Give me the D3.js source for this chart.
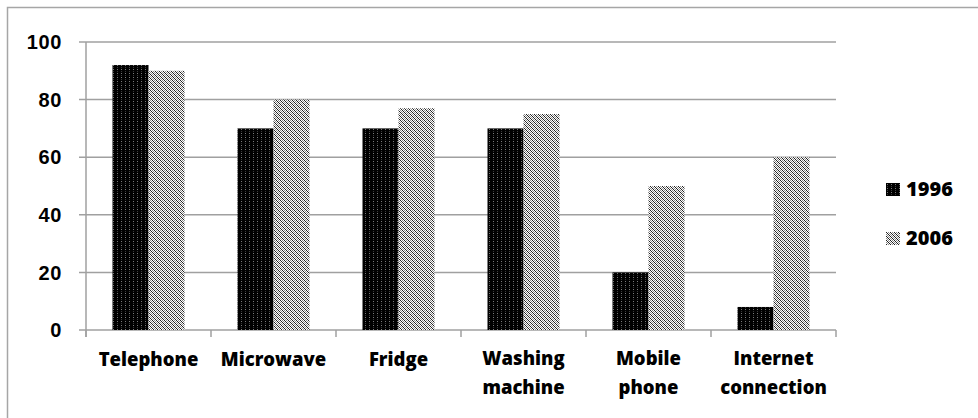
<!DOCTYPE html>
<html><head><meta charset="utf-8">
<script src="https://cdn.jsdelivr.net/npm/d3@7"></script>
<style>body{margin:0;background:#fff}svg{display:block}</style>
</head><body><svg id="c" width="978" height="418"></svg>
<script>
const categories = [["Telephone"],["Microwave"],["Fridge"],["Washing","machine"],["Mobile","phone"],["Internet","connection"]];
const series = ["1996","2006"];
const values1996 = [92,70,70,70,20,8];
const values2006 = [90,80,77,75,50,60];
const yTicks = [0,20,40,60,80,100];

(function(){
const svg = d3.select("#c");
const defs = svg.append("defs");
const p1 = defs.append("pattern").attr("id","p1996").attr("patternUnits","userSpaceOnUse").attr("width",4).attr("height",4);
p1.append("rect").attr("width",4).attr("height",4).attr("fill","#000");
p1.append("rect").attr("x",1).attr("y",1).attr("width",1).attr("height",1).attr("fill","#7a7a7a");
p1.append("rect").attr("x",1).attr("y",3).attr("width",1).attr("height",1).attr("fill","#3a3a3a");
const p2 = defs.append("pattern").attr("id","p2006").attr("patternUnits","userSpaceOnUse").attr("width",4).attr("height",4);
p2.append("rect").attr("width",4).attr("height",4).attr("fill","#fff");
[[0,0],[1,1],[2,2],[3,3],[2,0],[3,1],[0,2],[1,3]].forEach(([px,py],i)=>{
  p2.append("rect").attr("x",px).attr("y",py).attr("width",1).attr("height",1).attr("fill", i<4 ? "#222" : "#8a8a8a");
});

svg.append("rect").attr("x",7.5).attr("y",7.5).attr("width",1000).attr("height",1000)
  .attr("fill","none").attr("stroke","#a6a6a6").attr("stroke-width",1.5);

const L=86, R=836, T=42, B=330;
const x = d3.scaleBand().domain(d3.range(categories.length)).range([L,R]).paddingInner(0).paddingOuter(0);
const y = d3.scaleLinear().domain([0,100]).range([B,T]);
const bw = 36;

svg.append("g").selectAll("line").data(yTicks).join("line")
  .attr("x1",L-7).attr("x2",R).attr("y1",d=>y(d)).attr("y2",d=>y(d))
  .attr("stroke","#a0a0a0").attr("stroke-width",1.5);
svg.append("line").attr("x1",L).attr("x2",L).attr("y1",T).attr("y2",B+7)
  .attr("stroke","#a0a0a0").attr("stroke-width",1.5);
svg.append("g").selectAll("line").data(d3.range(categories.length+1)).join("line")
  .attr("x1",d=>L+d*x.bandwidth()).attr("x2",d=>L+d*x.bandwidth())
  .attr("y1",B).attr("y2",B+7).attr("stroke","#a0a0a0").attr("stroke-width",1.5);

svg.append("g").selectAll("text").data(yTicks).join("text")
  .attr("x",62).attr("y",d=>y(d)).attr("dy","0.36em").attr("text-anchor","end")
  .attr("font-family","Liberation Sans, Arial, sans-serif").attr("font-weight","bold").attr("font-size",20)
  .attr("letter-spacing",0.6)
  .text(d=>d);

const g = svg.append("g");
g.selectAll("rect.a").data(values1996).join("rect").attr("class","a")
  .attr("x",(d,i)=>x(i)+x.bandwidth()/2-bw).attr("width",bw)
  .attr("y",d=>y(d)).attr("height",d=>y(0)-y(d)).attr("fill","url(#p1996)");
g.selectAll("rect.b").data(values2006).join("rect").attr("class","b")
  .attr("x",(d,i)=>x(i)+x.bandwidth()/2).attr("width",bw)
  .attr("y",d=>y(d)).attr("height",d=>y(0)-y(d)).attr("fill","url(#p2006)");

const cl = svg.append("g").selectAll("text").data(categories).join("text")
  .attr("x",(d,i)=>x(i)+x.bandwidth()/2).attr("y",366).attr("text-anchor","middle")
  .attr("font-family","Open Sans, sans-serif").attr("font-weight",800).attr("font-size",18.5);
cl.each(function(d){
  const t=d3.select(this);
  d.forEach((line,j)=>t.append("tspan").attr("x",t.attr("x")).attr("dy", j===0 ? (d.length>1?-1:0) : 29).text(line));
});

const lg = svg.append("g").selectAll("g").data(series).join("g")
  .attr("transform",(d,i)=>`translate(886,${183+i*49})`);
lg.append("rect").attr("width",14).attr("height",13).attr("fill",(d,i)=>i===0?"url(#p1996)":"url(#p2006)");
lg.append("text").attr("x",20).attr("y",13).attr("font-family","Open Sans, sans-serif").attr("font-weight",800).attr("font-size",20).text(d=>d);
})();
</script></body></html>
